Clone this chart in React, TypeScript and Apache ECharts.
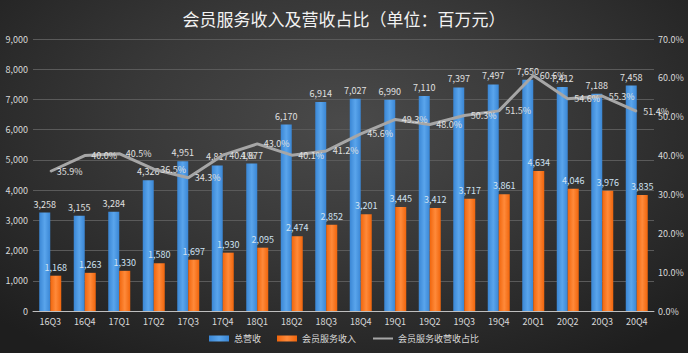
import React, { useEffect, useRef } from "react";
import * as echarts from "echarts";

const categories = ["16Q3","16Q4","17Q1","17Q2","17Q3","17Q4","18Q1","18Q2","18Q3","18Q4","19Q1","19Q2","19Q3","19Q4","20Q1","20Q2","20Q3","20Q4"];
const totalRevenue = [3258,3155,3284,4326,4951,4817,4877,6170,6914,7027,6990,7110,7397,7497,7650,7412,7188,7458];
const memberRevenue = [1168,1263,1330,1580,1697,1930,2095,2474,2852,3201,3445,3412,3717,3861,4634,4046,3976,3835];
const memberShare = [35.9,40.0,40.5,36.5,34.3,40.1,43.0,40.1,41.2,45.6,49.3,48.0,50.3,51.5,60.6,54.6,55.3,51.4];

const fontFamily = "'Noto Sans CJK SC', 'Noto Sans', sans-serif";

export default function App() {
  const ref = useRef<HTMLDivElement>(null);
  useEffect(() => {
    document.body.style.margin = "0";
    if (!ref.current) return;
    const chart = echarts.init(ref.current, null, { renderer: "svg" });
    const fmt = (v: number) => v.toLocaleString("en-US");
    chart.setOption({
      animation: false,
      backgroundColor: "transparent",
      textStyle: { fontFamily },
      title: {
        text: "会员服务收入及营收占比（单位：百万元）",
        left: "center",
        top: 5,
        textStyle: { color: "#f2f2f2", fontSize: 17, fontWeight: "normal", fontFamily },
      },
      legend: {
        bottom: 5,
        left: "center",
        itemWidth: 20,
        itemHeight: 6,
        itemGap: 16,
        textStyle: { color: "#d9d9d9", fontSize: 9 },
        data: [
          { name: "总营收", icon: "rect" },
          { name: "会员服务收入", icon: "rect" },
          { name: "会员服务收营收占比", itemStyle: { opacity: 0 } },
        ],
      },
      grid: { left: 33, right: 34, top: 39, bottom: 42, containLabel: false },
      xAxis: {
        type: "category",
        data: categories,
        axisLine: { lineStyle: { color: "#bfbfbf", width: 1 } },
        axisTick: { show: false },
        axisLabel: { color: "#d9d9d9", fontSize: 9, margin: 6 },
      },
      yAxis: [
        {
          type: "value",
          min: 0,
          max: 9000,
          interval: 1000,
          axisLine: { show: false },
          axisTick: { show: false },
          splitLine: { lineStyle: { color: "#5a5a5a", width: 1 } },
          axisLabel: { color: "#d9d9d9", fontSize: 9, margin: 5, formatter: (v: number) => fmt(v) },
        },
        {
          type: "value",
          min: 0,
          max: 70,
          interval: 10,
          axisLine: { show: false },
          axisTick: { show: false },
          splitLine: { show: false },
          axisLabel: { color: "#d9d9d9", fontSize: 9, margin: 4, formatter: (v: number) => v.toFixed(1) + "%" },
        },
      ],
      series: [
        {
          name: "总营收",
          type: "bar",
          data: totalRevenue,
          barWidth: 11,
          barGap: "0%",
          itemStyle: {
            color: new echarts.graphic.LinearGradient(0, 0, 1, 0, [
              { offset: 0, color: "#3a86d4" },
              { offset: 0.5, color: "#5aa5ec" },
              { offset: 1, color: "#3a86d4" },
            ]),
          },
          label: {
            show: true,
            position: "top",
            distance: 4,
            color: "#e0e0e0",
            fontSize: 9,
            formatter: (p: any) => fmt(p.value),
          },
        },
        {
          name: "会员服务收入",
          type: "bar",
          data: memberRevenue,
          barWidth: 11,
          itemStyle: {
            color: new echarts.graphic.LinearGradient(0, 0, 1, 0, [
              { offset: 0, color: "#f0650c" },
              { offset: 0.5, color: "#ff8a3a" },
              { offset: 1, color: "#f0650c" },
            ]),
          },
          label: {
            show: true,
            position: "top",
            distance: 4,
            color: "#cfe2f3",
            fontSize: 9,
            formatter: (p: any) => fmt(p.value),
          },
        },
        {
          name: "会员服务收营收占比",
          type: "line",
          yAxisIndex: 1,
          data: memberShare,
          symbol: "circle",
          symbolSize: 1,
          lineStyle: { color: "#a6a6a6", width: 3 },
          itemStyle: { color: "#a6a6a6" },
          z: 5,
          label: {
            show: true,
            position: "right",
            distance: 6,
            color: "#e0e0e0",
            fontSize: 9,
            formatter: (p: any) => p.value.toFixed(1) + "%",
          },
        },
      ],
    });
    return () => chart.dispose();
  }, []);
  return (
    <div
      style={{
        width: 688,
        height: 353,
        background: "radial-gradient(ellipse 70% 80% at 50% 35%, #4a4a4a 0%, #383838 45%, #1e1e1e 100%)",
      }}
    >
      <div ref={ref} style={{ width: 688, height: 353 }} />
    </div>
  );
}
